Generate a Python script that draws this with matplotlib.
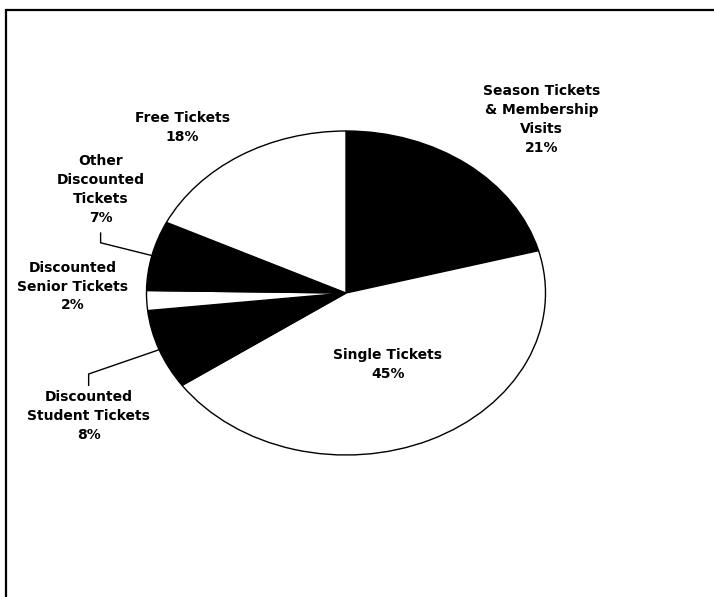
import matplotlib
matplotlib.use("Agg")
import matplotlib.pyplot as plt
import matplotlib.patches as mpatches
import numpy as np

# Visit mix by ticket type (percent of visits)
categories = [
    "Season Tickets\n& Membership\nVisits",
    "Single Tickets",
    "Discounted\nStudent Tickets",
    "Discounted\nSenior Tickets",
    "Other\nDiscounted\nTickets",
    "Free Tickets",
]
shares = [21, 45, 8, 2, 7, 18]
fills = ["black", "white", "black", "white", "black", "white"]

# label centres in axes data units, and leader elbows (x, y_label, y_bend)
label_pos = [(0.98, 1.07), (0.21, -0.44), (-1.29, -0.76),
             (-1.37, 0.04), (-1.23, 0.64), (-0.82, 1.02)]
leader_elbow = [None, None, (-1.29, -0.57, -0.50), None, (-1.23, 0.37, 0.31), None]

plt.rcParams["font.family"] = ["DejaVu Sans"]

fig = plt.figure(figsize=(7.14, 5.97), dpi=100)

# outer chart frame (only top and left edges fall inside the image)
frame = mpatches.Rectangle((5.5 / 714, -0.1), 1.2, (597 - 10) / 597 + 0.1,
                           transform=fig.transFigure, fill=False,
                           edgecolor="black", linewidth=1.6)
fig.patches.append(frame)

cx, cy, rx, ry = 346, 293, 199.5, 162
ax = fig.add_axes([(cx - rx) / 714, (597 - cy - ry) / 597, 2 * rx / 714, 2 * ry / 597])

wedges, _ = ax.pie(shares, colors=fills, startangle=90, counterclock=False,
                   radius=1.0, wedgeprops=dict(edgecolor="black", linewidth=1.0))
ax.set_xlim(-1, 1)
ax.set_ylim(-1, 1)
ax.set_aspect("auto")
ax.axis("off")

for w, name, pct, (lx, ly), elbow in zip(wedges, categories, shares, label_pos, leader_elbow):
    ax.text(lx, ly, f"{name}\n{pct}%", ha="center", va="center",
            fontsize=10, fontweight="bold", linespacing=1.45, clip_on=False)
    if elbow is not None:
        mid = np.deg2rad((w.theta1 + w.theta2) / 2)
        ex, ey = np.cos(mid), np.sin(mid)
        x0, y0, y1 = elbow
        ax.plot([x0, x0, ex], [y0, y1, ey], color="black", linewidth=1.0,
                clip_on=False)

plt.savefig("out.png", dpi=100, facecolor="white")
plt.close()
